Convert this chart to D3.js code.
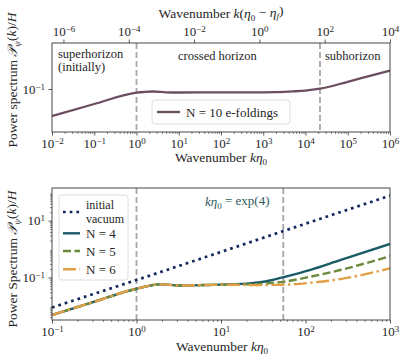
<!DOCTYPE html>
<html><head><meta charset="utf-8">
<script src="https://cdn.jsdelivr.net/npm/d3@7"></script>
<style>
body{margin:0;background:#fff}
text, tspan{font-family:"Liberation Serif","DejaVu Serif",serif}
text{fill:#262626}
</style>
</head><body>
<svg id="c" width="405" height="360" font-family="Liberation Serif, DejaVu Serif, serif"></svg>
<script>
// ---------- data ----------
const topK = [0.01, 0.1, 1, 1.5, 2.5, 5, 10, 100, 1000, 5000, 1e4, 2.2e4, 1e5, 3e5, 1e6];
const topP = [0.0355, 0.0562, 0.0867, 0.0891, 0.0908, 0.0881, 0.0875, 0.0879, 0.0881, 0.0912, 0.0938, 0.101, 0.132, 0.162, 0.202];
const topLegend = "N = 10 e-foldings";
const topRegions = ["superhorizon", "(initially)", "crossed horizon", "subhorizon"];
const topVlines = [1, 22026];           // k eta0 = 1, exp(10)

const vacK = [0.1, 1, 10, 100, 1000];
const vacP = [0.0087, 0.081, 0.79, 7.8, 76];
const nK  = [0.1, 0.3, 1, 1.9, 3.3, 7, 10, 14, 20, 29, 38, 54.6, 112, 257, 1000];
const pN4 = [0.00474, 0.0132, 0.0400, 0.0571, 0.0519, 0.0543, 0.0556, 0.0575, 0.0603, 0.0676, 0.0776, 0.102, 0.182, 0.407, 1.51];
const pN5 = [0.00474, 0.0132, 0.0400, 0.0571, 0.0519, 0.0543, 0.0556, 0.0562, 0.0569, 0.0589, 0.0631, 0.070, 0.105, 0.182, 0.562];
const pN6 = [0.00474, 0.0132, 0.0400, 0.0571, 0.0519, 0.0543, 0.0556, 0.0550, 0.0543, 0.0537, 0.0543, 0.055, 0.0646, 0.0871, 0.209];
const botVlines = [1, 54.598];          // 1, exp(4)
const botLegend = ["initial", "vacuum", "N = 4", "N = 5", "N = 6"];

const topXTicks = [-2,-1,0,1,2,3,4,5,6];
const topX2Ticks = [-6,-4,-2,0,2,4];
const topYTicks = [-1];
const botXTicks = [-1,0,1,2,3];
const botYTicks = [-1,1];

// ---------- styles ----------
const FONT = '"Liberation Serif","DejaVu Serif",serif';
const C = {top:"#6b4f60", vac:"#14275c", n4:"#1b5b68", n5:"#6a8a3c", n6:"#e2a046", vline:"#a6a6a6", ann:"#2e5b5e", spine:"#333"};

const svg = d3.select("#c");
const L = 52, R = 390, T1 = 43, B1 = 132, T2 = 188, B2 = 320;

const xT  = d3.scaleLog().domain([1e-2, 1e6]).range([L, R]);
const xT2 = d3.scaleLog().domain([Math.pow(10,-6.35), 1e4]).range([L, R]);
const yT  = d3.scaleLog().domain([Math.pow(10,-1.717), Math.pow(10,-0.233)]).range([B1, T1]);
const xB  = d3.scaleLog().domain([0.1, 1000]).range([L, R]);
const yB  = d3.scaleLog().domain([Math.pow(10,-2.5), Math.pow(10,2.15)]).range([B2, T2]);

function minors(lo, hi){ const m=[]; for(let e=lo;e<hi;e++) for(let j=2;j<10;j++) m.push(j*Math.pow(10,e)); return m; }

function supText(sel, exp){
  sel.text(null);
  sel.append("tspan").text("10");
  sel.append("tspan").attr("dy","-0.45em").style("font-size","9px").text(exp<0 ? "\u2212"+(-exp) : String(exp));
}
function styleAxis(g){
  g.attr("font-family", FONT);
  g.select(".domain").remove();
  g.selectAll(".tick line").attr("stroke", C.spine).attr("stroke-width", 0.8);
  g.selectAll("text").style("font-size","13px").style("font-family",FONT).attr("fill","#262626");
}
function addAxis(orient, scale, majorsExp, pos, minorVals){
  const mk = ()=> orient==="bottom"?d3.axisBottom(scale):orient==="top"?d3.axisTop(scale):d3.axisLeft(scale);
  const tr = orient==="left" ? `translate(${pos},0)` : `translate(0,${pos})`;
  if (minorVals){
    const m = mk().tickValues(minorVals.filter(v=>v>=scale.domain()[0] && v<=scale.domain()[1])).tickSize(2).tickFormat("");
    const gm = svg.append("g").attr("transform", tr).call(m); styleAxis(gm);
    gm.selectAll(".tick line").attr("stroke-width",0.6);
  }
  const ax = mk().tickValues(majorsExp.map(e=>Math.pow(10,e))).tickSize(3.5).tickPadding(3.5).tickSizeOuter(0).tickFormat("");
  const g = svg.append("g").attr("transform", tr).call(ax);
  styleAxis(g);
  g.selectAll(".tick").each(function(d,i){
    supText(d3.select(this).select("text"), majorsExp[i]);
  });
  return g;
}

function frame(t,b){
  svg.append("rect").attr("x",L).attr("y",t).attr("width",R-L).attr("height",b-t)
    .attr("fill","none").attr("stroke",C.spine).attr("stroke-width",0.9);
}

function mathLabel(g, parts){
  parts.forEach(p=>{
    const ts = g.append("tspan").text(p[0]);
    if (p[1]==="i") ts.style("font-style","italic");
    if (p[1]==="s" || p[1]==="S"){ ts.attr("dy","0.3em").style("font-size","9px"); if(p[1]==="s") ts.style("font-style","italic"); }
    if (p[1]==="u") ts.attr("dy","-0.3em");
  });
}

// ================= TOP PANEL =================
svg.append("clipPath").attr("id","clipT").append("rect").attr("x",L).attr("y",T1).attr("width",R-L).attr("height",B1-T1);

topVlines.forEach(v=>{
  svg.append("line").attr("x1",xT(v)).attr("x2",xT(v)).attr("y1",T1).attr("y2",B1)
    .attr("stroke",C.vline).attr("stroke-width",1.8).attr("stroke-dasharray","6,3");
});

const lineT = d3.line().x((d,i)=>xT(topK[i])).y((d,i)=>yT(topP[i])).curve(d3.curveMonotoneX);
svg.append("path").datum(topK).attr("d",lineT).attr("fill","none").attr("stroke",C.top).attr("stroke-width",2.3).attr("clip-path","url(#clipT)");

svg.append("text").attr("x",58).attr("y",58).style("font-size","12.5px").text(topRegions[0]);
svg.append("text").attr("x",58).attr("y",71).style("font-size","12.5px").text(topRegions[1]);
svg.append("text").attr("x",178).attr("y",60).style("font-size","12.5px").text(topRegions[2]);
svg.append("text").attr("x",325).attr("y",60).style("font-size","12.5px").text(topRegions[3]);

svg.append("rect").attr("x",152).attr("y",100).attr("width",138).attr("height",24).attr("rx",3)
  .attr("fill","#fff").attr("fill-opacity",0.85).attr("stroke","#d4d4d4").attr("stroke-width",0.8);
svg.append("line").attr("x1",157).attr("x2",180).attr("y1",112).attr("y2",112).attr("stroke",C.top).attr("stroke-width",2.3);
svg.append("text").attr("x",186).attr("y",116.5).style("font-size","13px").text(topLegend);

frame(T1,B1);
addAxis("bottom", xT, topXTicks, B1, minors(-2,6));
addAxis("top", xT2, topX2Ticks, T1, null);
addAxis("left", yT, topYTicks, L, null);

{
  const t = svg.append("text").attr("x",221).attr("y",162).attr("text-anchor","middle").style("font-size","13.5px");
  mathLabel(t, [["Wavenumber ","n"],["k","i"],["η","i"],["0","S"]]);
  const t2 = svg.append("text").attr("x",221).attr("y",18).attr("text-anchor","middle").style("font-size","13.5px");
  mathLabel(t2, [["Wavenumber ","n"],["k","i"],["(","n"],["η","i"],["0","S"],[" \u2212 ","u"],["η","i"],["f","s"],[")","u"]]);
  const t3 = svg.append("text").attr("transform","translate(17,80) rotate(-90)").attr("text-anchor","middle").style("font-size","13.5px");
  mathLabel(t3, [["Power spectrum ","n"],["𝒫","i"],["ψ","s"],["(","u"],["k","i"],[")/","n"],["H","i"]]);
}

// ================= BOTTOM PANEL =================
svg.append("clipPath").attr("id","clipB").append("rect").attr("x",L).attr("y",T2).attr("width",R-L).attr("height",B2-T2);

botVlines.forEach(v=>{
  svg.append("line").attr("x1",xB(v)).attr("x2",xB(v)).attr("y1",T2).attr("y2",B2)
    .attr("stroke",C.vline).attr("stroke-width",1.8).attr("stroke-dasharray","6,3");
});

const lineV = d3.line().x((d,i)=>xB(vacK[i])).y((d,i)=>yB(vacP[i]));
svg.append("path").datum(vacK).attr("d",lineV).attr("fill","none").attr("stroke",C.vac)
  .attr("stroke-width",2.7).attr("stroke-dasharray","2.7,4.0").attr("clip-path","url(#clipB)");

function nLine(arr){ return d3.line().x((d,i)=>xB(nK[i])).y((d,i)=>yB(arr[i])).curve(d3.curveMonotoneX)(nK); }
svg.append("path").attr("d",nLine(pN4)).attr("fill","none").attr("stroke",C.n4).attr("stroke-width",2.4).attr("clip-path","url(#clipB)");
svg.append("path").attr("d",nLine(pN5)).attr("fill","none").attr("stroke",C.n5).attr("stroke-width",2.4).attr("stroke-dasharray","8,3.5").attr("clip-path","url(#clipB)");
svg.append("path").attr("d",nLine(pN6)).attr("fill","none").attr("stroke",C.n6).attr("stroke-width",2.4).attr("stroke-dasharray","13,3.5,2.4,3.5").attr("clip-path","url(#clipB)");

{
  const a = svg.append("text").attr("x",205).attr("y",206).style("font-size","13px");
  mathLabel(a, [["k","i"],["η","i"],["0","S"],[" = exp(4)","u"]]);
  a.selectAll("tspan").attr("fill",C.ann);
}

svg.append("rect").attr("x",59).attr("y",195).attr("width",69).attr("height",85).attr("rx",3)
  .attr("fill","#fff").attr("fill-opacity",0.85).attr("stroke","#d4d4d4").attr("stroke-width",0.8);
svg.append("line").attr("x1",63).attr("x2",80).attr("y1",212).attr("y2",212).attr("stroke",C.vac).attr("stroke-width",2.7).attr("stroke-dasharray","2.7,4.0");
svg.append("text").attr("x",86).attr("y",208.5).style("font-size","12px").text(botLegend[0]);
svg.append("text").attr("x",86).attr("y",222.5).style("font-size","12px").text(botLegend[1]);
[[233.3,C.n4,null],[251,C.n5,"8,3.5"],[269.3,C.n6,"13,3.5,2.4,3.5"]].forEach((e,i)=>{
  const ln = svg.append("line").attr("x1",63).attr("x2",80).attr("y1",e[0]).attr("y2",e[0]).attr("stroke",e[1]).attr("stroke-width",2.4);
  if (e[2]) ln.attr("stroke-dasharray",e[2]);
  svg.append("text").attr("x",86).attr("y",e[0]+4.5).style("font-size","13px").text(botLegend[i+2]);
});

frame(T2,B2);
addAxis("bottom", xB, botXTicks, B2, minors(-1,3));
addAxis("left", yB, botYTicks, L, minors(-3,2));

{
  const t = svg.append("text").attr("x",222).attr("y",351).attr("text-anchor","middle").style("font-size","13.5px");
  mathLabel(t, [["Wavenumber ","n"],["k","i"],["η","i"],["0","S"]]);
  const t3 = svg.append("text").attr("transform","translate(17,259) rotate(-90)").attr("text-anchor","middle").style("font-size","13.5px");
  mathLabel(t3, [["Power Spectrum ","n"],["𝒫","i"],["ψ","s"],["(","u"],["k","i"],[")/","n"],["H","i"]]);
}
</script>
</body></html>
